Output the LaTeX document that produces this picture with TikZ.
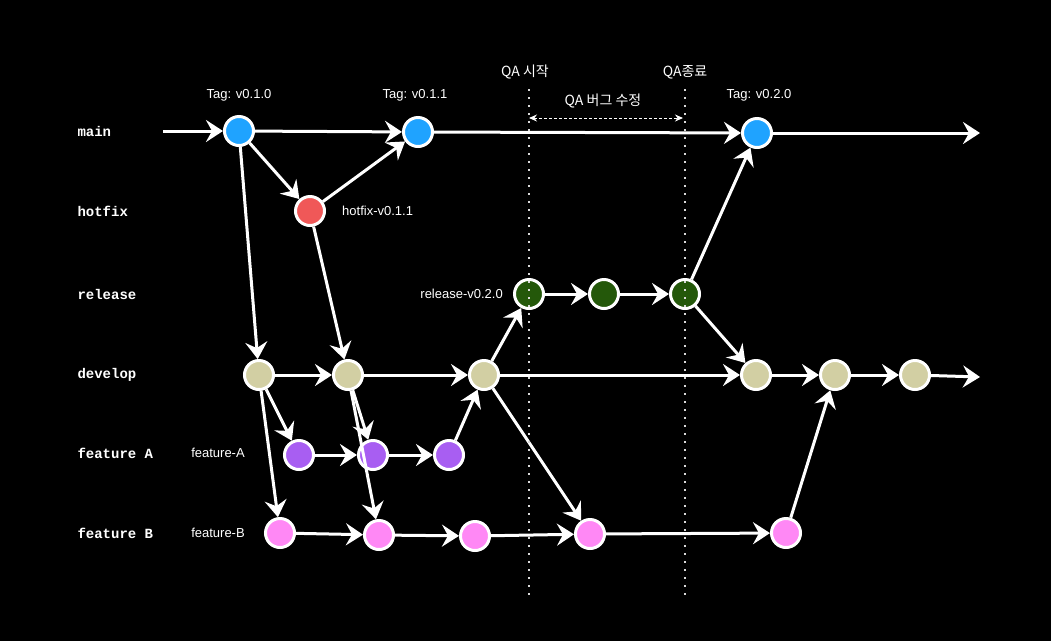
\documentclass[tikz,border=0pt]{standalone}
\usepackage{fontspec}
\setmainfont{Liberation Sans}
\newfontfamily\monobold{Liberation Mono}
\newfontfamily\krfont{Noto Sans CJK KR}
\usepackage{tikz}
\usetikzlibrary{arrows.meta}
\usepackage{xcolor}
\definecolor{cmain}{RGB}{31,163,255}
\definecolor{chotfix}{RGB}{240,88,88}
\definecolor{crelease}{RGB}{36,88,10}
\definecolor{cdevelop}{RGB}{210,207,163}
\definecolor{cfeata}{RGB}{168,94,242}
\definecolor{cfeatb}{RGB}{255,136,245}

\begin{document}
\begin{tikzpicture}[x=1pt, y=-1pt,
  commit/.style={circle, draw=white, line width=3pt, minimum size=29pt, inner sep=0pt},
  mainc/.style={commit, fill=cmain},
  hotfixc/.style={commit, fill=chotfix},
  releasec/.style={commit, fill=crelease},
  developc/.style={commit, fill=cdevelop},
  featac/.style={commit, fill=cfeata},
  featbc/.style={commit, fill=cfeatb},
  branch/.style={anchor=west, text=white, font=\monobold\bfseries\fontsize{14}{16}\selectfont},
  lbl/.style={text=white, font=\fontsize{13}{15}\selectfont, inner sep=0pt},
  qa/.style={text=white, font=\krfont\fontsize{14}{16}\selectfont, inner sep=0pt},
  edge/.style={-{Stealth[length=17pt, width=22pt, inset=6pt]}, line width=3pt, draw=white},
  qaline/.style={draw=white!85!black, line width=2pt, dash pattern=on 2pt off 6pt}
]
\fill[black] (0,0) rectangle (1051,641);
\useasboundingbox (0,0) rectangle (1051,641);

% branch names
\node[branch] (lmain) at (74,131) {main};
\node[branch] (lhotfix) at (74,211) {hotfix};
\node[branch] (lrelease) at (74,294) {release};
\node[branch] (ldevelop) at (74,375) {develop};
\node[branch] (lfeata) at (74,453) {feature A};
\node[branch] (lfeatb) at (74,533) {feature B};

% commits
\node[mainc] (m1) at (239,131) {};
\node[mainc] (m2) at (418,132) {};
\node[mainc] (m3) at (757,133) {};
\node[hotfixc] (h1) at (310,211) {};
\node[releasec] (r1) at (529,294) {};
\node[releasec] (r2) at (604,294) {};
\node[releasec] (r3) at (685,294) {};
\node[developc] (d1) at (259,375) {};
\node[developc] (d2) at (348,375) {};
\node[developc] (d3) at (484,375) {};
\node[developc] (d4) at (756,375) {};
\node[developc] (d5) at (835,375) {};
\node[developc] (d6) at (915,375) {};
\node[featac] (a1) at (299,455) {};
\node[featac] (a2) at (373,455) {};
\node[featac] (a3) at (449,455) {};
\node[featbc] (b1) at (280,533) {};
\node[featbc] (b2) at (379,535) {};
\node[featbc] (b3) at (475,536) {};
\node[featbc] (b4) at (590,534) {};
\node[featbc] (b5) at (786,533) {};

% labels
\node[lbl] (t1) at (239,95) {Tag: v0.1.0};
\node[lbl] (t2) at (415,95) {Tag: v0.1.1};
\node[lbl] (t3) at (759,95) {Tag: v0.2.0};
\node[lbl, anchor=west] (thf) at (342,211) {hotfix-v0.1.1};
\node[lbl, anchor=east] (trel) at (503,294) {release-v0.2.0};
\node[lbl] (tfa) at (218,453) {feature-A};
\node[lbl] (tfb) at (218,533) {feature-B};

\coordinate (in) at (163,131);
\coordinate (outm) at (980,133);
\coordinate (outd) at (980,377);

% edges
\draw[edge] (in) -- (m1);
\draw[edge] (m1) -- (m2);
\draw[edge] (m1) -- (h1);
\draw[edge] (h1) -- (m2);
\draw[edge] (m2) -- (m3);
\draw[edge] (m3) -- (outm);
\draw[edge] (m1) -- (d1);
\draw[edge] (h1) -- (d2);
\draw[edge] (d1) -- (d2);
\draw[edge] (d1) -- (a1);
\draw[edge] (d1) -- (b1);
\draw[edge] (d2) -- (a2);
\draw[edge] (d2) -- (b2);
\draw[edge] (a1) -- (a2);
\draw[edge] (a2) -- (a3);
\draw[edge] (a3) -- (d3);
\draw[edge] (d2) -- (d3);
\draw[edge] (d3) -- (r1);
\draw[edge] (r1) -- (r2);
\draw[edge] (r2) -- (r3);
\draw[edge] (r3) -- (m3);
\draw[edge] (r3) -- (d4);
\draw[edge] (d3) -- (d4);
\draw[edge] (d3) -- (b4);
\draw[edge] (d4) -- (d5);
\draw[edge] (d5) -- (d6);
\draw[edge] (d6) -- (outd);
\draw[edge] (b1) -- (b2);
\draw[edge] (b2) -- (b3);
\draw[edge] (b3) -- (b4);
\draw[edge] (b4) -- (b5);
\draw[edge] (b5) -- (d5);

% QA window
\node[qa] (qs) at (525,72) {QA 시작};
\node[qa] (qe) at (685,72) {QA종료};
\node[qa] (qf) at (603,101) {QA 버그 수정};
\coordinate (qs1) at (529,89);
\coordinate (qs2) at (529,596);
\coordinate (qe1) at (685,89);
\coordinate (qe2) at (685,596);
\coordinate (qa1) at (529,118);
\coordinate (qa2) at (683,118);
\draw[qaline] (qs1) -- (qs2);
\draw[qaline] (qe1) -- (qe2);
\draw[{Stealth[length=8pt,width=7pt]}-{Stealth[length=8pt,width=7pt]}, draw=white, line width=1pt, dash pattern=on 3pt off 2pt] (qa1) -- (qa2);
\end{tikzpicture}
\end{document}
